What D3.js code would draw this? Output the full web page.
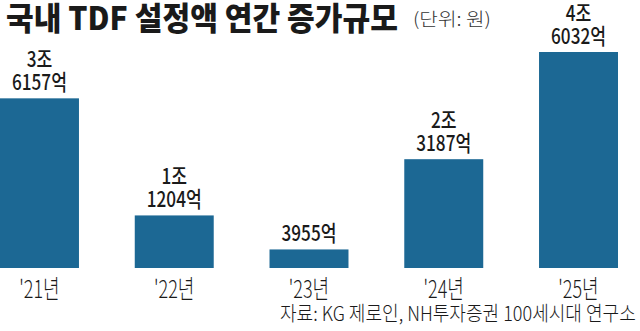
<!DOCTYPE html>
<html><head><meta charset="utf-8">
<script src="https://cdn.jsdelivr.net/npm/d3@7"></script>
<style>
html,body{margin:0;padding:0;background:#fff;}
svg{display:block;}
text{font-family:"Noto Sans CJK KR","Noto Sans",sans-serif;}
</style></head>
<body>
<svg id="c" width="640" height="331"></svg>
<script>
// data (unit: 억원)
const categories = ["'21년", "'22년", "'23년", "'24년", "'25년"];
const values = [36157, 11204, 3955, 23187, 46032];
const title = "국내 TDF 설정액 연간 증가규모";
const unitText = "(단위: 원)";
const sourceText = "자료: KG 제로인, NH투자증권 100세시대 연구소";

function labelLines(v){
  const jo = Math.floor(v/10000), eok = v % 10000;
  return jo > 0 ? [jo + "조", eok + "억"] : [eok + "억"];
}

const svg = d3.select("#c");
const baseY = 268;

const x = d3.scaleBand().domain(categories).range([0, 618]).paddingInner(0.414).paddingOuter(0);
const y = d3.scaleLinear().domain([0, d3.max(values)]).range([baseY, 52]);

const barColor = "#1c6894";

// place a text at (px,py) and compress it horizontally to a target width
function fitText(sel, px, py, target){
  sel.each(function(){
    const w = this.getComputedTextLength();
    d3.select(this).attr("transform", `translate(${px},${py}) scale(${target / w},1)`);
  });
}

// title
svg.append("text")
  .attr("font-size", 32).attr("font-weight", 900).attr("fill", "#1a1a1a")
  .text(title).call(fitText, 6, 30, 392);

svg.append("text")
  .attr("font-size", 18).attr("font-weight", 300).attr("fill", "#333")
  .text(unitText).call(fitText, 413, 26, 78);

// bars
svg.append("g").selectAll("rect").data(values).join("rect")
  .attr("x", (d,i) => x(categories[i]))
  .attr("y", d => y(d))
  .attr("width", x.bandwidth())
  .attr("height", d => baseY - y(d))
  .attr("fill", barColor);

// value labels
const sx = 0.78;
svg.append("g").selectAll("text").data(values).join("text")
  .attr("transform", (d,i) => {
    const n = labelLines(d).length;
    const cx = x(categories[i]) + x.bandwidth()/2;
    return `translate(${cx},${y(d) - 8 - (n-1)*23}) scale(${sx},1)`;
  })
  .attr("text-anchor", "middle")
  .attr("font-size", 22).attr("font-weight", 500).attr("fill", "#1a1a1a")
  .each(function(d){
    labelLines(d).forEach((t,j) => {
      d3.select(this).append("tspan").attr("x", 0).attr("dy", j === 0 ? 0 : 23).text(t);
    });
  });

// x axis labels
const xAxis = d3.axisBottom(x).tickSize(0).tickPadding(0);
const ax = svg.append("g").attr("transform", `translate(0,${baseY})`).call(xAxis);
ax.select(".domain").remove();
ax.selectAll(".tick text")
  .attr("y", 0).attr("dy", null)
  .attr("transform", "translate(0,30) scale(0.72,1)")
  .attr("font-family", "\"Noto Sans CJK KR\", sans-serif")
  .attr("font-size", 25).attr("font-weight", 300).attr("fill", "#1a1a1a");

// source
svg.append("text")
  .attr("font-size", 20).attr("font-weight", 300).attr("fill", "#1a1a1a")
  .text(sourceText).call(fitText, 280, 321, 356);
</script>
</body></html>
